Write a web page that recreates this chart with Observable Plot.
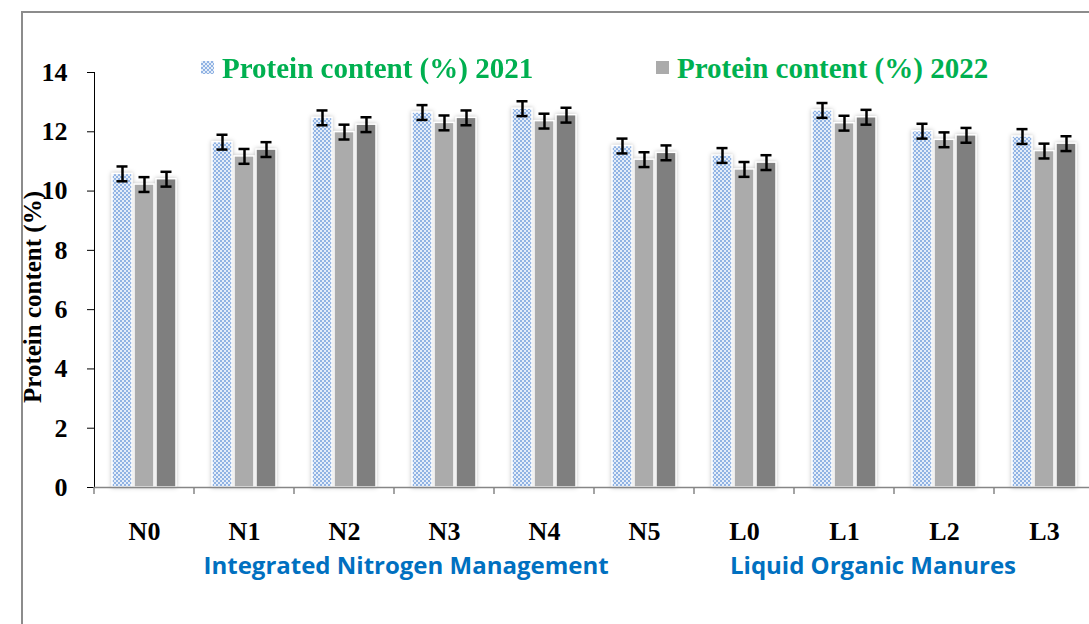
<!DOCTYPE html>
<html>
<head>
<meta charset="utf-8">
<script src="https://cdn.jsdelivr.net/npm/d3@7"></script>
<script src="https://cdn.jsdelivr.net/npm/@observablehq/plot@0.6"></script>
<style>
  html, body { margin: 0; padding: 0; background: #fff; overflow: hidden; width: 1089px; height: 624px; }
  #wrap { position: relative; width: 1089px; height: 624px; overflow: hidden; }
  #frame { position: absolute; left: 21px; top: 11px; width: 1200px; height: 800px; border: 2px solid #8c8c8c; box-sizing: border-box; }
  .leg { position: absolute; top: 52px; font: bold 29px "Liberation Serif", serif; color: #00B050; white-space: nowrap; }
  .sw { display: inline-block; width: 13px; height: 13px; margin-right: 8px; vertical-align: 4px; }
  .grp { position: absolute; top: 548px; font: bold 24px "Open Sans", sans-serif; color: #0070C0; white-space: nowrap; }
  #ylab { position: absolute; left: 33px; top: 297px; transform: translate(-50%, -50%) rotate(-90deg); font: bold 25px "Liberation Serif", serif; color: #000; white-space: nowrap; }
  #chart { position: absolute; left: 0; top: 0; }
</style>
</head>
<body>
<div id="wrap">
  <div id="frame"></div>
  <div id="chart"></div>
  <div class="leg" style="left:201px"><span class="sw" style="background:url('data:image/svg+xml;utf8,<svg xmlns=%22http://www.w3.org/2000/svg%22 width=%224%22 height=%224%22><rect width=%224%22 height=%224%22 fill=%22%2391b3e3%22/><rect width=%222%22 height=%222%22 fill=%22%23e4edf9%22/><rect x=%222%22 y=%222%22 width=%222%22 height=%222%22 fill=%22%23e4edf9%22/></svg>')"></span>Protein content (%) 2021</div>
  <div class="leg" style="left:656px"><span class="sw" style="background:#ababab"></span>Protein content (%) 2022</div>
  <div class="grp" id="g1">Integrated Nitrogen Management</div>
  <div class="grp" id="g2">Liquid Organic Manures</div>
  <div id="ylab">Protein content (%)</div>
</div>
<script>
const categories = ["N0", "N1", "N2", "N3", "N4", "N5", "L0", "L1", "L2", "L3"];
const series = ["2021", "2022", "Pooled"];
const values2021 = [10.58, 11.65, 12.47, 12.65, 12.78, 11.52, 11.20, 12.72, 12.02, 11.84];
const values2022 = [10.22, 11.17, 11.99, 12.30, 12.36, 11.06, 10.73, 12.29, 11.73, 11.35];
const valuesPooled = [10.40, 11.40, 12.24, 12.47, 12.56, 11.29, 10.96, 12.49, 11.88, 11.60];
const errors = [0.25, 0.25, 0.25, 0.25, 0.25, 0.25, 0.25, 0.25, 0.25, 0.25];
const yTicks = [0, 2, 4, 6, 8, 10, 12, 14];

const colors = {"2021": "url(#checker)", "2022": "#ababab", "Pooled": "#7f7f7f"};
const valueSets = {"2021": values2021, "2022": values2022, "Pooled": valuesPooled};

const data = [];
categories.forEach((c, i) => {
  series.forEach(s => {
    data.push({cat: c, series: s, value: valueSets[s][i], err: errors[i]});
  });
});

const chart = Plot.plot({
  width: 1089,
  height: 624,
  marginLeft: 92,
  marginRight: -6,
  marginTop: 72,
  marginBottom: 137,
  style: {fontFamily: "'Liberation Serif', serif", fontSize: "26px", fontWeight: "bold", color: "#000", background: "transparent"},
  fx: {domain: categories, padding: 0, label: null, axis: "bottom", tickSize: 0, tickPadding: 34},
  x: {domain: series, paddingInner: 0.1, paddingOuter: 0.8, axis: null},
  y: {domain: [0, 14], ticks: yTicks, tickSize: 7, tickPadding: 20, label: null, line: true, tickFormat: d3.format("d")},
  marks: [
    Plot.barY(data, {fx: "cat", x: "series", y: "value", fill: d => colors[d.series], stroke: "white", strokeWidth: 1.5}),
    Plot.ruleX(data, {fx: "cat", x: "series", y1: d => d.value - d.err, y2: d => d.value + d.err, stroke: "#000", strokeWidth: 2.5}),
    Plot.tickY(data, {fx: "cat", x: "series", y: d => d.value - d.err, stroke: "#000", strokeWidth: 2.5, insetLeft: 4.5, insetRight: 4.5}),
    Plot.tickY(data, {fx: "cat", x: "series", y: d => d.value + d.err, stroke: "#000", strokeWidth: 2.5, insetLeft: 4.5, insetRight: 4.5}),
    Plot.ruleY([0], {stroke: "#868686", strokeWidth: 1.5})
  ]
});

document.getElementById("chart").appendChild(chart);

const svg = d3.select(chart);
svg.style("overflow", "visible");
const defs = svg.insert("defs", ":first-child");
const pat = defs.append("pattern").attr("id", "checker").attr("patternUnits", "userSpaceOnUse").attr("width", 4).attr("height", 4);
pat.append("rect").attr("width", 4).attr("height", 4).attr("fill", "#91b3e3");
pat.append("rect").attr("width", 2).attr("height", 2).attr("fill", "#e4edf9");
pat.append("rect").attr("x", 2).attr("y", 2).attr("width", 2).attr("height", 2).attr("fill", "#e4edf9");

svg.selectAll("g[aria-label='bar']").style("filter", "drop-shadow(0px 0px 2px rgba(0,0,0,0.25))");
svg.selectAll("[aria-label^='y-axis']").attr("stroke", "#868686");
svg.selectAll("[aria-label='y-axis tick label'], [aria-label='y-axis tick label'] text").attr("stroke", null);

// group boundary ticks from the fx scale
const fx = chart.scale("fx");
const y = chart.scale("y");
const y0 = y.apply(0);
const bounds = categories.map(c => fx.apply(c)).concat([fx.apply(categories[categories.length - 1]) + fx.bandwidth]);
svg.append("g").selectAll("line").data(bounds).join("line")
  .attr("x1", d => d).attr("x2", d => d)
  .attr("y1", y0).attr("y2", y0 + 7)
  .attr("stroke", "#868686").attr("stroke-width", 1.5);

// group labels positioned from the fx scale
const g1 = document.getElementById("g1");
const g2 = document.getElementById("g2");
const c1 = (fx.apply("N0") + fx.apply("N5") + fx.bandwidth) / 2 + 12;
const c2 = (fx.apply("L0") + fx.apply("L3") + fx.bandwidth) / 2 - 21;
g1.style.left = (c1 - g1.offsetWidth / 2) + "px";
g2.style.left = (c2 - g2.offsetWidth / 2) + "px";
</script>
</body>
</html>
